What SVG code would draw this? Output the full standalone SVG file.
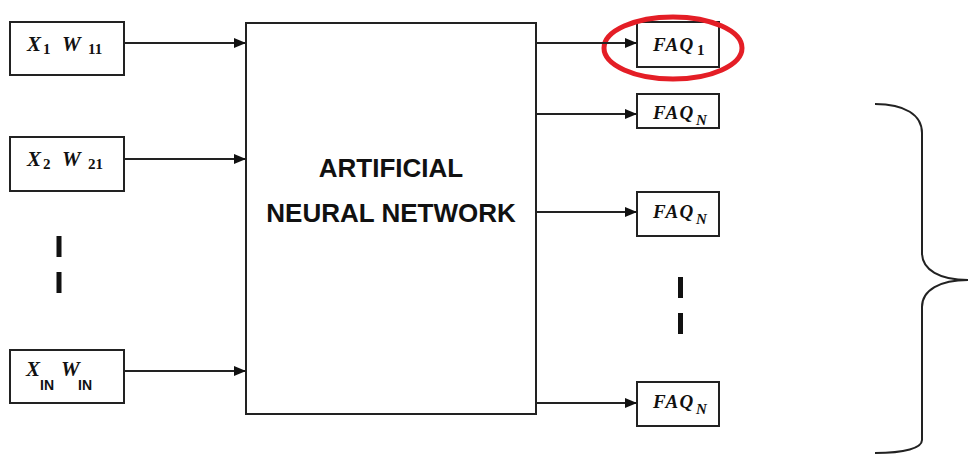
<svg xmlns="http://www.w3.org/2000/svg" width="969" height="457" viewBox="0 0 969 457">
  <style>
    .box { fill: #fff; stroke: #222; stroke-width: 2; }
    .wire { stroke: #222; stroke-width: 2; fill: none; }
    .m { font-family: "Liberation Serif", serif; font-weight: bold; font-style: italic; font-size: 21px; fill: #111; }
    .sub { font-family: "Liberation Serif", serif; font-weight: bold; font-size: 15px; fill: #111; }
    .subs { font-family: "Liberation Sans", sans-serif; font-weight: bold; font-size: 14px; fill: #111; }
    .faq { font-family: "Liberation Serif", serif; font-weight: bold; font-style: italic; font-size: 19px; letter-spacing: 1.5px; fill: #111; }
    .fsub { font-family: "Liberation Serif", serif; font-weight: bold; font-size: 15px; fill: #111; }
    .title { font-family: "Liberation Sans", sans-serif; font-weight: bold; font-size: 26px; fill: #111; text-anchor: middle; }
    .dash { fill: #111; }
  </style>
  <defs>
    <marker id="arrow" markerWidth="12" markerHeight="10" refX="11" refY="5" orient="auto" markerUnits="userSpaceOnUse">
      <path d="M0,0 L12,5 L0,10 Z" fill="#111"/>
    </marker>
  </defs>

  <!-- inputs -->
  <g id="input1">
    <rect class="box" x="10" y="22" width="114" height="53"/>
    <text class="m" x="27" y="51">X</text>
    <text class="sub" x="43" y="54">1</text>
    <text class="m" x="62" y="51">W</text>
    <text class="sub" x="88" y="54">11</text>
  </g>
  <g id="input2">
    <rect class="box" x="10" y="137" width="114" height="54"/>
    <text class="m" x="27" y="166">X</text>
    <text class="sub" x="43" y="169">2</text>
    <text class="m" x="62" y="166">W</text>
    <text class="sub" x="88" y="169">21</text>
  </g>
  <g id="inputN">
    <rect class="box" x="10" y="350" width="114" height="53"/>
    <text class="m" x="26" y="376">X</text>
    <text class="subs" x="40" y="390">IN</text>
    <text class="m" x="61" y="376">W</text>
    <text class="subs" x="78" y="390">IN</text>
  </g>
  <g id="input-gap">
    <rect class="dash" x="56.5" y="236" width="5" height="21"/>
    <rect class="dash" x="56.5" y="272" width="5" height="21"/>
  </g>

  <!-- network block -->
  <g id="ann">
    <rect class="box" x="246" y="23" width="290" height="391"/>
    <text class="title" x="391" y="177">ARTIFICIAL</text>
    <text class="title" x="391" y="222">NEURAL NETWORK</text>
  </g>

  <!-- outputs -->
  <g id="faq1">
    <rect class="box" x="637" y="22" width="82" height="45"/>
    <text class="faq" x="653" y="51">FAQ</text>
    <text class="fsub" x="697" y="55">1</text>
    <ellipse cx="673" cy="48" rx="69" ry="31" fill="none" stroke="#e41e26" stroke-width="5"/>
  </g>
  <g id="faqN-a">
    <rect class="box" x="637" y="94" width="82" height="34"/>
    <text class="faq" x="653" y="119">FAQ</text>
    <text class="fsub" x="696" y="125" font-style="italic">N</text>
  </g>
  <g id="faqN-b">
    <rect class="box" x="637" y="192" width="82" height="44"/>
    <text class="faq" x="653" y="218">FAQ</text>
    <text class="fsub" x="696" y="224" font-style="italic">N</text>
  </g>
  <g id="output-gap">
    <rect class="dash" x="678" y="277" width="5" height="21"/>
    <rect class="dash" x="678" y="313" width="5" height="21"/>
  </g>
  <g id="faqN-c">
    <rect class="box" x="637" y="382" width="82" height="44"/>
    <text class="faq" x="653" y="408">FAQ</text>
    <text class="fsub" x="696" y="414" font-style="italic">N</text>
  </g>

  <!-- right-hand brace -->
  <g id="brace">
    <path class="wire" stroke-width="2.5" d="M875,104 C905,104 922,115 922,133 L922,253 C922,270 940,280 968,280 C940,280 922,290 922,307 L922,440 C922,448 905,453 875,453"/>
  </g>

  <!-- connectors -->
  <g id="connectors">
    <line class="wire" x1="124" y1="43" x2="245" y2="43" marker-end="url(#arrow)"/>
    <line class="wire" x1="124" y1="159" x2="245" y2="159" marker-end="url(#arrow)"/>
    <line class="wire" x1="124" y1="371" x2="245" y2="371" marker-end="url(#arrow)"/>
    <line class="wire" x1="536" y1="43" x2="636" y2="43" marker-end="url(#arrow)"/>
    <line class="wire" x1="536" y1="114" x2="636" y2="114" marker-end="url(#arrow)"/>
    <line class="wire" x1="536" y1="212" x2="636" y2="212" marker-end="url(#arrow)"/>
    <line class="wire" x1="536" y1="403" x2="636" y2="403" marker-end="url(#arrow)"/>
  </g>
</svg>
